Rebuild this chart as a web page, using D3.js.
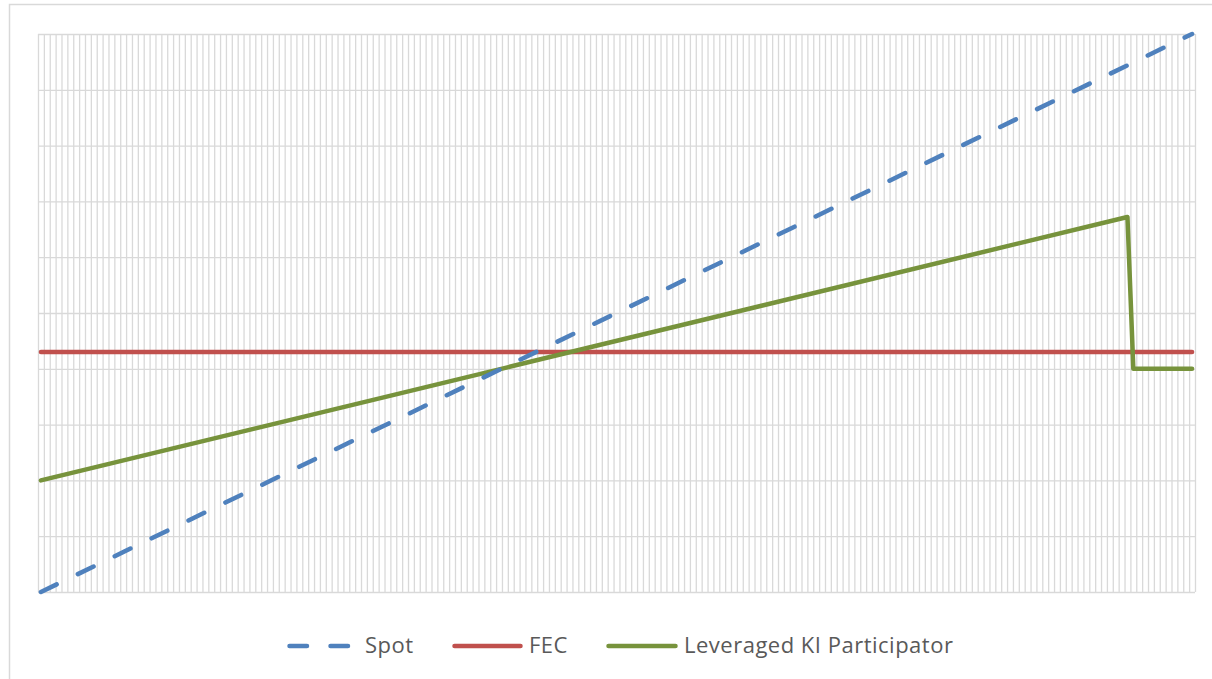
<!DOCTYPE html>
<html>
<head>
<meta charset="utf-8">
<script src="https://cdn.jsdelivr.net/npm/d3@7"></script>
<style>
  body { margin: 0; background: #fff; }
  svg { display: block; }
</style>
</head>
<body>
<script>
// chart values (y units are arbitrary, axis labels are not shown)
var categoryCount = 197;
var yTicks = [0, 1, 2, 3, 4, 5, 6, 7, 8, 9, 10];

// break points of each series (category index -> value), lines are straight in between
var spotIndex = [0, 196];
var spotValues = [0, 10];
var fecIndex = [0, 196];
var fecValues = [4.3, 4.3];
var kiIndex = [0, 185, 186, 196];
var kiValues = [2.0, 6.72, 4.0, 4.0];

var seriesNames = ["Spot", "FEC", "Leveraged KI Participator"];
var seriesColors = ["#4f81bd", "#c0504d", "#77933c"];

var width = 1212;
var height = 679;
var plot = {left: 38, right: 1195, top: 34, bottom: 592};

var svg = d3.select("body")
            .append("svg")
            .attr("width", width)
            .attr("height", height);

// chart frame, runs off the page on the right and bottom
svg.append("rect")
   .attr("x", 9.5)
   .attr("y", 4.5)
   .attr("width", 1260)
   .attr("height", 720)
   .attr("fill", "white")
   .attr("stroke", "#d9d9d9")
   .attr("stroke-width", 1.5);

// linear scale over category edges, points sit in the middle of each category
var x_scale = d3.scaleLinear()
                .domain([0, categoryCount])
                .range([plot.left, plot.right]);

var y_scale = d3.scaleLinear()
                .domain([0, 10])
                .range([plot.bottom, plot.top]);

// vertical gridlines between categories
var x_grid = d3.axisBottom(x_scale)
               .tickValues(d3.range(categoryCount + 1))
               .tickSize(-(plot.bottom - plot.top))
               .tickFormat("");

svg.append("g")
   .attr("transform", "translate(0," + plot.bottom + ")")
   .call(x_grid)
   .call(function(g) { g.select(".domain").remove(); })
   .selectAll("line")
   .attr("stroke", "#d9d9d9")
   .attr("stroke-width", 1.3);

// horizontal gridlines
var y_grid = d3.axisLeft(y_scale)
               .tickValues(yTicks)
               .tickSize(-(plot.right - plot.left))
               .tickFormat("");

svg.append("g")
   .attr("transform", "translate(" + plot.left + ",0)")
   .call(y_grid)
   .call(function(g) { g.select(".domain").remove(); })
   .selectAll("line")
   .attr("stroke", "#d9d9d9")
   .attr("stroke-width", 1.3);

var line = d3.line()
             .x(function(d) { return x_scale(d[0] + 0.5); })
             .y(function(d) { return y_scale(d[1]); });

var series = [
  {name: seriesNames[0], color: seriesColors[0], dash: "17.5,23.5",
   points: d3.zip(spotIndex, spotValues)},
  {name: seriesNames[1], color: seriesColors[1], dash: null,
   points: d3.zip(fecIndex, fecValues)},
  {name: seriesNames[2], color: seriesColors[2], dash: null,
   points: d3.zip(kiIndex, kiValues)}
];

// draw order as in the picture: FEC, KI participator, spot on top
[1, 2, 0].forEach(function(k) {
  var s = series[k];
  svg.append("path")
     .datum(s.points)
     .attr("d", line)
     .attr("fill", "none")
     .attr("stroke", s.color)
     .attr("stroke-width", 4.5)
     .attr("stroke-linecap", "round")
     .attr("stroke-linejoin", "round")
     .attr("stroke-dasharray", s.dash);
});

// legend
var legendY = 646;
var legendItems = [
  {line: [289.5, 350.5], text: 365},
  {line: [454.5, 520.5], text: 529},
  {line: [608.5, 675.5], text: 684}
];

var legend = svg.selectAll(".legend")
                .data(series)
                .enter()
                .append("g")
                .attr("class", "legend");

legend.append("line")
      .attr("x1", function(d, i) { return legendItems[i].line[0]; })
      .attr("x2", function(d, i) { return legendItems[i].line[1]; })
      .attr("y1", legendY)
      .attr("y2", legendY)
      .attr("stroke", function(d) { return d.color; })
      .attr("stroke-width", 4.5)
      .attr("stroke-linecap", "round")
      .attr("stroke-dasharray", function(d) { return d.dash; });

legend.append("text")
      .attr("x", function(d, i) { return legendItems[i].text; })
      .attr("y", legendY + 7)
      .attr("font-family", "'Open Sans', Lato, sans-serif")
      .attr("font-size", 22)
      .attr("letter-spacing", 0.5)
      .attr("fill", "#595959")
      .text(function(d) { return d.name; });
</script>
</body>
</html>
